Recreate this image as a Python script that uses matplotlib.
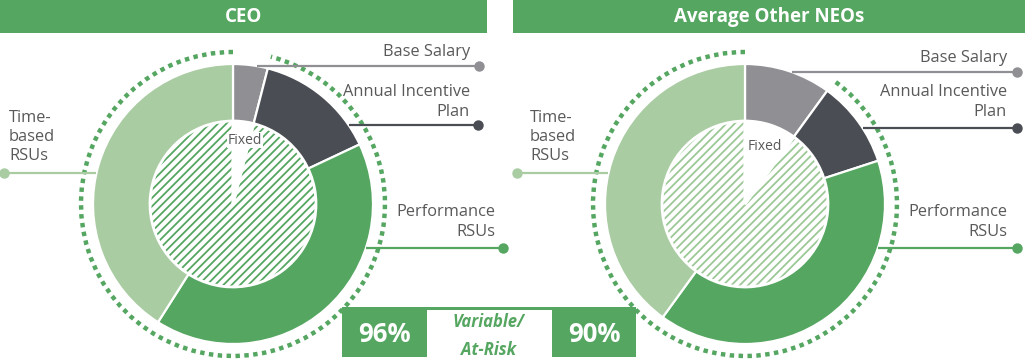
import matplotlib.pyplot as plt
from matplotlib.patches import Rectangle, Arc
import numpy as np

plt.rcParams['font.family'] = ['Open Sans', 'DejaVu Sans']
plt.rcParams['hatch.linewidth'] = 1.3

# data
panel_titles = ["CEO", "Average Other NEOs"]
components = ["Base Salary", "Annual Incentive\nPlan", "Performance\nRSUs", "Time-\nbased\nRSUs"]
ceo_mix = [4, 14, 41, 41]
neo_mix = [10, 10, 40, 40]
variable_pct = [96, 90]
mixes = [ceo_mix, neo_mix]

GREEN = '#55a661'
LIGHT = '#a9cca2'
GRAY = '#908f94'
DARK = '#4a4d53'
TEXT = '#58595b'
seg_colors = [GRAY, DARK, GREEN, LIGHT]
hatch_colors = [GREEN, '#9cc897']

W, H = 1025, 361
fig = plt.figure(figsize=(W / 100, H / 100), dpi=100)
ax = fig.add_axes([0, 0, 1, 1])
ax.set_xlim(0, W)
ax.set_ylim(0, H)
ax.set_aspect('equal')
ax.axis('off')


def fy(y):
    # pixel row -> data y
    return H - y


R_OUT, R_IN, R_DOT = 140, 84, 152
centers = [(233, 204), (745, 204)]

# label layout per panel: (text x, text y, ha, line y, dot x)
layouts = [
    [(470, 52, 'right', 66, 479), (470, 102, 'right', 125, 478),
     (495, 222, 'right', 248, 503), (9, 137, 'left', 173, 4)],
    [(1007, 58, 'right', 72, 1017), (1007, 102, 'right', 128, 1017),
     (1007, 222, 'right', 248, 1017), (530, 137, 'left', 173, 517)],
]
fixed_pos = [(245, 140), (765, 147)]
bars = [(0, 487), (513, 1025)]

for i, (cx, cy) in enumerate(centers):
    mix = mixes[i]
    var = variable_pct[i]
    fixed = 100 - var
    c = (cx, fy(cy))

    # title bar
    x0, x1 = bars[i]
    ax.add_patch(Rectangle((x0, fy(33)), x1 - x0, 33, color=GREEN, lw=0))
    ax.text((x0 + x1) / 2, fy(17), panel_titles[i], color='white', fontsize=13.5,
            fontweight='bold', ha='center', va='center')

    # outer ring
    ax.pie(mix, colors=seg_colors, radius=R_OUT, center=c, startangle=90,
           counterclock=False, frame=True,
           wedgeprops=dict(width=R_OUT - R_IN + 2, edgecolor='white', linewidth=1.6))

    # inner fixed/variable pie, hatched variable part
    inner, _ = ax.pie([fixed, var], colors=['white', 'white'], radius=R_IN - 1, center=c,
                      startangle=90, counterclock=False, frame=True,
                      wedgeprops=dict(linewidth=0))
    inner[1].set_hatch('////')
    inner[1].set_edgecolor(hatch_colors[i])
    inner[1].set_linewidth(0)
    ax.pie([fixed, var], colors=['none', 'none'], radius=R_IN - 1, center=c,
           startangle=90, counterclock=False, frame=True,
           wedgeprops=dict(edgecolor='white', linewidth=2, fill=False))

    fx, fyy = fixed_pos[i]
    ax.text(fx, fy(fyy), "Fixed", color=TEXT, fontsize=10, ha='center', va='center',
            bbox=dict(facecolor='white', edgecolor='none', pad=0.6), zorder=5)

    # dotted arc round the variable part
    ax.add_patch(Arc(c, 2 * R_DOT, 2 * R_DOT, theta1=90, theta2=450 - 3.6 * fixed,
                     color=GREEN, lw=3.2, linestyle=(0, (1.0, 1.0)), zorder=3))

    # labels with leader lines
    for k, (tx, ty, ha, ly, dx) in enumerate(layouts[i]):
        ax.text(tx, fy(ty), components[k], color=TEXT, fontsize=11.8, ha=ha,
                va='center', linespacing=1.25)
        off = np.sqrt(R_OUT ** 2 - (ly - cy) ** 2)
        sx = cx + off if dx > cx else cx - off
        ax.plot([sx, dx], [fy(ly), fy(ly)], color=seg_colors[k], lw=1.6,
                solid_capstyle='butt', zorder=4)
        ax.plot(dx, fy(ly), 'o', color=seg_colors[k], ms=6.5, zorder=4)

ax.set_xlim(0, W)
ax.set_ylim(0, H)

# variable / at-risk box
ax.add_patch(Rectangle((342, fy(357)), 636 - 342, 50, color=GREEN, lw=0, zorder=6))
ax.add_patch(Rectangle((427, 0), 552 - 427, fy(309.5), color='white', lw=0, zorder=7))
ax.text(384, fy(334), f"{variable_pct[0]}%", color='white', fontsize=18.5,
        fontweight='bold', ha='center', va='center', zorder=8)
ax.text(594, fy(334), f"{variable_pct[1]}%", color='white', fontsize=18.5,
        fontweight='bold', ha='center', va='center', zorder=8)
ax.text(489, fy(336), "Variable/\nAt-Risk", color=GREEN, fontsize=12,
        fontweight='bold', fontstyle='italic', ha='center', va='center',
        linespacing=1.65, zorder=8)

fig.savefig('out.png', dpi=100)
